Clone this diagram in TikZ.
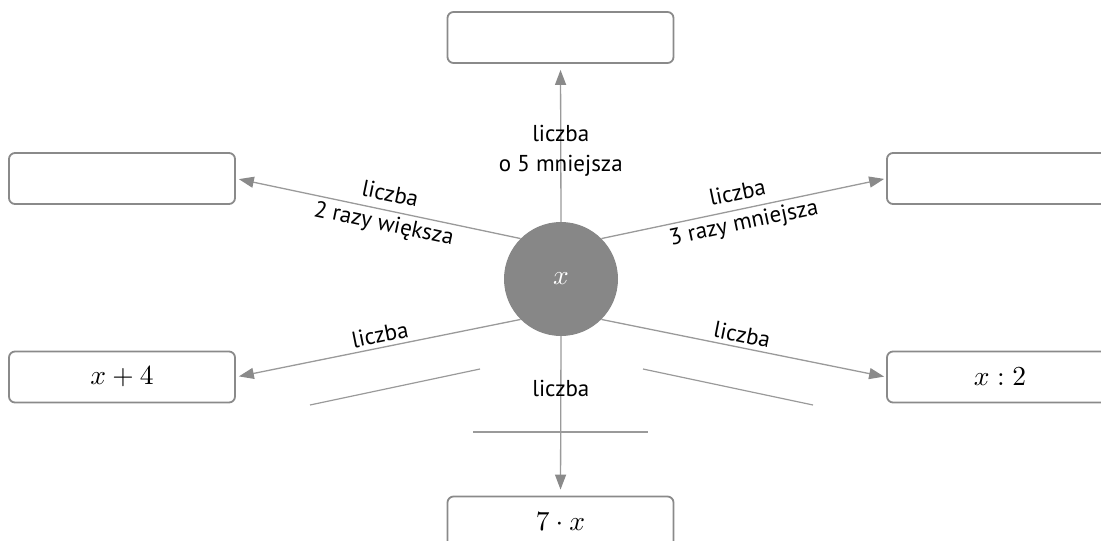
\documentclass[tikz,border=0pt]{standalone}
\usepackage{fontspec}
\setmainfont{PT Sans}
\usetikzlibrary{arrows.meta}
\definecolor{boxgray}{HTML}{8A8A8A}
\definecolor{linegray}{HTML}{9A9A9A}
\definecolor{circgray}{HTML}{878787}
\newcommand{\mybigmath}[1]{\scalebox{2.75}{$#1$}}
\tikzset{
  answerbox/.style={draw=boxgray, line width=1.8pt, rounded corners=6pt,
    minimum width=226pt, minimum height=51pt, inner sep=0pt},
  hub/.style={circle, fill=circgray, minimum size=114pt, inner sep=0pt,
    text=white},
  arr/.style={draw=linegray, line width=1.3pt,
    -{Triangle[length=15pt,width=11pt,fill=boxgray,color=boxgray]}},
  lbl/.style={font=\fontsize{23}{30}\selectfont, align=center, text=black},
  blank/.style={draw=linegray, line width=1.2pt}
}
\begin{document}
\begin{tikzpicture}[x=1pt,y=-1pt]
\useasboundingbox (0,0) rectangle (1101,541);
\clip (0,0) rectangle (1101,541);
\node[hub] (c) at (561,279) {\mybigmath{x}};
\node[answerbox] (top) at (560.5,37.5) {};
\node[answerbox] (ul) at (122,178.5) {};
\node[answerbox] (ur) at (1000,178.5) {};
\node[answerbox] (ll) at (122,377) {\mybigmath{x+4}};
\node[answerbox] (lr) at (1000,377) {\mybigmath{x:2}};
\node[answerbox] (bot) at (560.5,522) {\mybigmath{7\cdot x}};

\draw[arr, shorten >=6pt] (c.north) -- node[lbl, pos=0.45] {liczba\\o 5 mniejsza} (top.south);
\draw[arr, shorten >=3pt] (c.135) -- node[lbl, pos=0.47, sloped] {liczba\\2 razy większa} (ul.east);
\draw[arr, shorten >=2pt] (c.45) -- node[lbl, pos=0.49, sloped] {liczba\\3 razy mniejsza} (ur.west);
\draw[arr, shorten >=3pt] (c.225) -- node[lbl, pos=0.485, sloped, above, inner sep=4pt] {liczba} (ll.east);
\draw[arr, shorten >=2pt] (c.315) -- node[lbl, pos=0.485, sloped, above, inner sep=4pt] {liczba} (lr.west);
\draw[arr, shorten >=6pt] (c.south) -- node[lbl, pos=0.33] {liczba} (bot.north);

\draw[blank] (310,405) -- (480,369);
\draw[blank] (643,369) -- (813,405);
\draw[blank] (473,432) -- (648,432);
\end{tikzpicture}
\end{document}
